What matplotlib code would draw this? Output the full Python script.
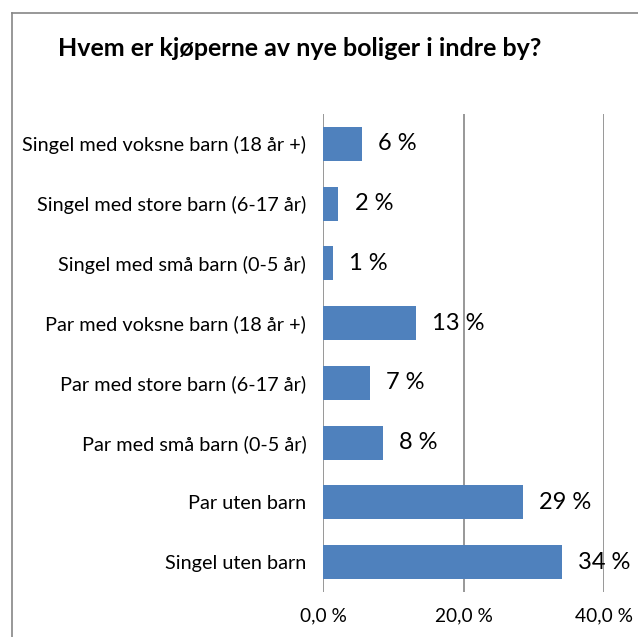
import matplotlib
matplotlib.use("Agg")
import matplotlib.pyplot as plt
from matplotlib.lines import Line2D

plt.rcParams['font.family'] = ['Lato', 'DejaVu Sans']

categories = [
    "Singel med voksne barn (18 år +)",
    "Singel med store barn (6-17 år)",
    "Singel med små barn (0-5 år)",
    "Par med voksne barn (18 år +)",
    "Par med store barn (6-17 år)",
    "Par med små barn (0-5 år)",
    "Par uten barn",
    "Singel uten barn",
]
values = [5.6, 2.2, 1.4, 13.2, 6.7, 8.5, 28.5, 34.0]
labels = ["6 %", "2 %", "1 %", "13 %", "7 %", "8 %", "29 %", "34 %"]
xticks = [0, 20, 40]
xticklabels = ["0,0 %", "20,0 %", "40,0 %"]

fig = plt.figure(figsize=(6.38, 6.37), dpi=100)
ax = fig.add_axes([323/638, 1-592/637, (604-323)/638, (592-114)/637])

ypos = list(range(len(categories)))[::-1]
ax.barh(ypos, values, height=0.57, color="#4F81BD")
for y, v, lab in zip(ypos, values, labels):
    ax.text(v + 2.3, y, lab, va="center", ha="left", fontsize=17, color="black")

ax.set_xlim(0, 40)
ax.set_ylim(-0.5, len(categories) - 0.5)
ax.set_yticks(ypos)
ax.set_yticklabels(categories, fontsize=14.3)
ax.set_xticks(xticks)
ax.set_xticklabels(xticklabels, fontsize=13.8)
ax.tick_params(axis="y", length=0, pad=12)
ax.tick_params(axis="x", length=0, pad=11)
for x in xticks:
    ax.axvline(x, color="#868686", lw=1.2, zorder=0)
for s in ax.spines.values():
    s.set_visible(False)

# outer chart frame (cropped)
fig.add_artist(Line2D([12/638, 12/638], [0, 1-13/637], color="#868686", lw=1.2))
fig.add_artist(Line2D([12/638, 1], [1-13/637, 1-13/637], color="#868686", lw=1.2))

fig.text(58/638, 1-48/637, "Hvem er kjøperne av nye boliger i indre by?",
         fontsize=18, fontweight="bold", va="center", ha="left")

fig.savefig("out.png", dpi=100)
